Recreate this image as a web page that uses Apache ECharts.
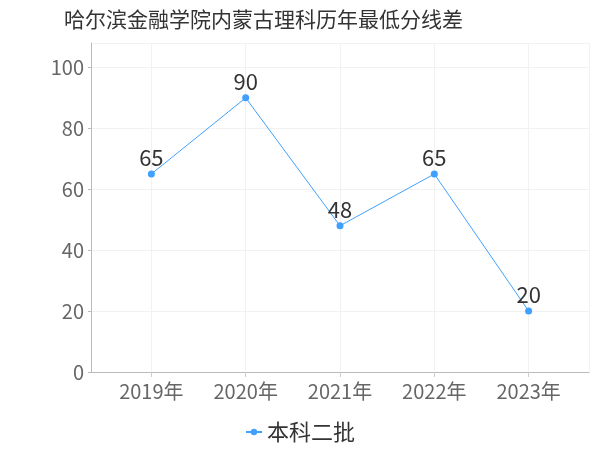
<!DOCTYPE html>
<html><head><meta charset="utf-8">
<script src="https://cdn.jsdelivr.net/npm/echarts@6/dist/echarts.min.js"></script>
<style>html,body{margin:0;padding:0;background:#fff}#c{width:600px;height:450px}</style>
</head><body><div id="c"></div>
<script>
var title = '哈尔滨金融学院内蒙古理科历年最低分线差';
var categories = ['2019年','2020年','2021年','2022年','2023年'];
var seriesName = '本科二批';
var values = [65, 90, 48, 65, 20];

var chart = echarts.init(document.getElementById('c'));
var FONT = '"Noto Sans CJK SC", "Noto Sans", sans-serif';
chart.setOption({
  animation: false,
  textStyle: {fontFamily: FONT},
  title: {text: title, left: 59, top: 4,
    textStyle: {fontSize: 21, fontWeight: 'normal', color: '#333', fontFamily: FONT}},
  legend: {bottom: 2, left: 'center', itemWidth: 16, itemHeight: 8, itemGap: 4,
    textStyle: {fontSize: 22, color: '#333', fontFamily: FONT}, data: [seriesName]},
  grid: {left: 91, right: 11, top: 43, bottom: 78},
  xAxis: {
    type: 'value', min: -0.64, max: 4.64, splitNumber: 5,
    axisLine: {lineStyle: {color: '#bbb'}},
    axisTick: {lineStyle: {color: '#ccc'}},
    splitLine: {show: true, lineStyle: {color: '#f2f2f2'}},
    axisLabel: {fontSize: 20, color: '#666', margin: 9, showMinLabel: false, showMaxLabel: false,
      formatter: function (v) { return Number.isInteger(v) ? (categories[v] || '') : ''; }}
  },
  yAxis: {
    type: 'value', min: 0, max: 108, interval: 20,
    axisLine: {show: true, onZero: false, lineStyle: {color: '#bbb'}},
    axisTick: {show: true, length: 3, lineStyle: {color: '#bbb'}},
    splitLine: {lineStyle: {color: '#f2f2f2'}},
    axisLabel: {fontSize: 20, color: '#666', showMaxLabel: false, margin: 7}
  },
  series: [{
    name: seriesName, type: 'line',
    data: values.map(function (v, i) { return [i, v]; }),
    symbol: 'circle', symbolSize: 7,
    itemStyle: {color: '#3fa0ff'},
    lineStyle: {color: '#3fa0ff', width: 1},
    label: {show: true, position: 'top', distance: 2, fontSize: 22, color: '#333',
      formatter: function (p) { return p.value[1]; }}
  }]
});
</script></body></html>
